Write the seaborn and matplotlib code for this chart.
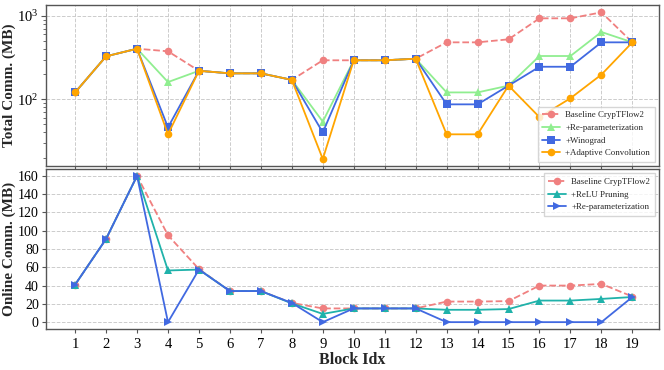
import numpy as np
import pandas as pd
import matplotlib
matplotlib.use('Agg')
import matplotlib.pyplot as plt
import seaborn as sns

# ---- data ----
blocks = list(range(1, 20))

total_baseline = [121, 328, 405, 377, 220, 205, 205, 171, 294, 294, 294, 307, 483, 483, 525, 938, 938, 1107, 483]
total_reparam = [121, 328, 405, 161, 220, 205, 205, 171, 54, 294, 294, 307, 121, 121, 146, 331, 331, 643, 483]
total_winograd = [121, 328, 405, 46, 220, 205, 205, 171, 40, 294, 294, 307, 87, 87, 146, 246, 246, 483, 483]
total_adaptive = [121, 328, 405, 38, 220, 205, 205, 171, 19.2, 294, 294, 307, 38, 38, 146, 61, 103, 198, 483]

online_baseline = [41, 91, 160, 95, 58, 34, 34, 21, 15, 15, 15, 15, 22.5, 22.5, 23, 40, 40, 41.8, 28]
online_relu = [41, 91, 160, 56.5, 57.5, 34, 34, 20.5, 9, 15, 15, 15, 13.5, 13.5, 14.3, 23.6, 23.6, 25.4, 27.5]
online_reparam = [41, 91, 160, 0, 57.5, 34, 34, 21, 0, 15, 15, 15, 0, 0, 0, 0, 0, 0, 27.5]

top_labels = ['Baseline CrypTFlow2', '+Re-parameterization', '+Winograd', '+Adaptive Convolution']
bot_labels = ['Baseline CrypTFlow2', '+ReLU Pruning', '+Re-parameterization']

# ---- style ----
sns.set_style('ticks')
plt.rcParams['font.family'] = ['Liberation Serif', 'DejaVu Serif']
plt.rcParams['mathtext.fontset'] = 'stix'
plt.rcParams['axes.edgecolor'] = '#555555'
plt.rcParams['xtick.color'] = '#555555'
plt.rcParams['ytick.color'] = '#555555'
plt.rcParams['xtick.labelcolor'] = 'black'
plt.rcParams['ytick.labelcolor'] = 'black'

fig = plt.figure(figsize=(6.64, 3.70), dpi=100)
ax1 = fig.add_axes([45.7 / 664, 1 - 166.3 / 370, (659 - 45.7) / 664, (166.3 - 4.7) / 370])
ax2 = fig.add_axes([45.7 / 664, 1 - 329 / 370, (659 - 45.7) / 664, (329 - 169) / 370], sharex=ax1)

lw = 1.3
ms = 5.5
leg_kw = dict(fontsize=6.4, frameon=True, fancybox=False, edgecolor='#cccccc',
              handlelength=2.0, handletextpad=0.6, borderpad=0.5, labelspacing=0.5)

# top panel
sns.lineplot(x=blocks, y=total_baseline, ax=ax1, color='#f08080', linestyle='--', marker='o',
             markersize=ms, markeredgewidth=0, linewidth=lw, label=top_labels[0])
sns.lineplot(x=blocks, y=total_reparam, ax=ax1, color='#90ee90', marker='^',
             markersize=ms, markeredgewidth=0, linewidth=lw, label=top_labels[1])
sns.lineplot(x=blocks, y=total_winograd, ax=ax1, color='#4169e1', marker='s',
             markersize=ms, markeredgewidth=0, linewidth=lw, label=top_labels[2])
sns.lineplot(x=blocks, y=total_adaptive, ax=ax1, color='#ffa500', marker='o',
             markersize=ms, markeredgewidth=0, linewidth=lw, label=top_labels[3])
ax1.set_yscale('log')
ax1.set_ylim(15.7, 1367)
ax1.set_ylabel('Total Comm. (MB)', fontsize=11, fontweight='bold')
ax1.grid(True, which='major', linestyle='--', color='#cccccc', linewidth=0.7)
ax1.tick_params(axis='x', labelbottom=False, length=3)
ax1.tick_params(axis='y', labelsize=10.5, pad=2)
ax1.legend(loc='lower right', **leg_kw)

# bottom panel
sns.lineplot(x=blocks, y=online_baseline, ax=ax2, color='#f08080', linestyle='--', marker='o',
             markersize=ms, markeredgewidth=0, linewidth=lw, label=bot_labels[0])
sns.lineplot(x=blocks, y=online_relu, ax=ax2, color='#20b2aa', marker='^',
             markersize=ms, markeredgewidth=0, linewidth=lw, label=bot_labels[1])
sns.lineplot(x=blocks, y=online_reparam, ax=ax2, color='#4169e1', marker='>',
             markersize=ms, markeredgewidth=0, linewidth=lw, label=bot_labels[2])
ax2.set_ylim(-7.5, 167.5)
ax2.set_yticks(range(0, 161, 20))
ax2.set_ylabel('Online Comm. (MB)', fontsize=11, fontweight='bold')
ax2.set_xlabel('Block Idx', fontsize=11.5, fontweight='bold', labelpad=1)
ax2.grid(True, axis='y', linestyle='--', color='#cccccc', linewidth=0.7)
ax2.tick_params(axis='x', labelsize=10.5, length=3)
ax2.tick_params(axis='y', labelsize=10, length=3, pad=2)
ax2.legend(loc='upper right', **leg_kw)

ax2.set_xticks(blocks)
ax2.set_xlim(0.05, 19.86)

for ax in (ax1, ax2):
    for s in ax.spines.values():
        s.set_linewidth(1.0)
    ax.yaxis.set_label_coords(-0.049, 0.5)

fig.savefig('out.png', dpi=100)
